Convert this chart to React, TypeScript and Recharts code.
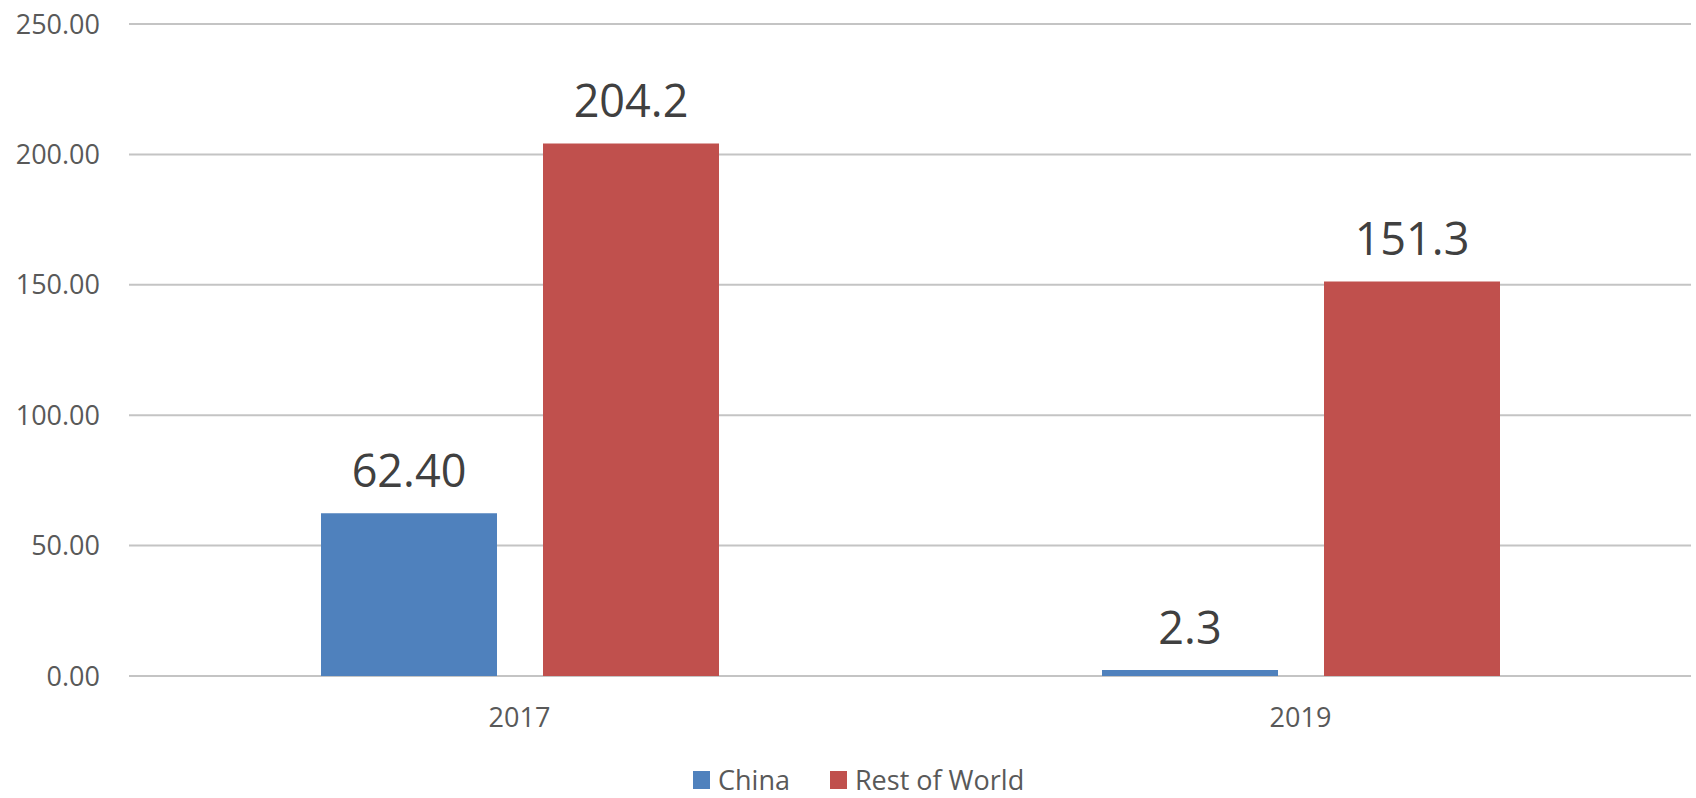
import { BarChart, Bar, XAxis, YAxis, CartesianGrid, Legend, LabelList } from 'recharts';

const years = ['2017', '2019'];
const chinaValues = [62.4, 2.3];
const chinaLabels = ['62.40', '2.3'];
const restValues = [204.2, 151.3];
const restLabels = ['204.2', '151.3'];
const yTicks = [0, 50, 100, 150, 200, 250];

const data = years.map((year, i) => ({
  year,
  china: chinaValues[i],
  chinaLabel: chinaLabels[i],
  rest: restValues[i],
  restLabel: restLabels[i],
}));

const FONT = '"Open Sans", sans-serif';

// Excel-style legend: small square then gray label
const renderLegend = (props: any) => {
  const { payload } = props;
  return (
    <div
      style={{
        height: 30,
        display: 'flex',
        alignItems: 'center',
        paddingLeft: 693,
        fontFamily: FONT,
        fontSize: 27,
        color: '#595959',
      }}
    >
      {payload.map((entry: any, i: number) => (
        <div key={i} style={{ display: 'flex', alignItems: 'center', marginRight: 40 }}>
          <span style={{ width: 17, height: 18, background: entry.color, display: 'inline-block', marginRight: 8 }} />
          <span style={{ lineHeight: '30px' }}>{entry.value}</span>
        </div>
      ))}
    </div>
  );
};

export default function App() {
  return (
    <div style={{ position: 'absolute', left: 0, top: 0, background: '#fff' }}>
      <BarChart
        width={1696}
        height={798}
        data={data}
        margin={{ top: 24, right: 5, bottom: 3, left: 0 }}
        barSize={176}
        barGap={46}
      >
        <CartesianGrid vertical={false} stroke="#c4c4c4" strokeWidth={2} />
        <XAxis
          dataKey="year"
          axisLine={false}
          tickLine={false}
          tickSize={0}
          tickMargin={32}
          height={89}
          tick={{ fill: '#595959', fontSize: 27, fontFamily: FONT }}
        />
        <YAxis
          domain={[0, 250]}
          ticks={yTicks}
          axisLine={false}
          tickLine={false}
          tickSize={0}
          tickMargin={29}
          width={129}
          tickFormatter={(v: number) => v.toFixed(2)}
          tick={{ fill: '#595959', fontSize: 27, fontFamily: FONT }}
        />
        <Legend verticalAlign="bottom" wrapperStyle={{ left: 0, width: 1696 }} content={renderLegend} />
        <Bar dataKey="china" name="China" fill="#4F81BD" isAnimationActive={false}>
          <LabelList dataKey="chinaLabel" position="top" offset={26} fill="#404040" fontSize={45} fontFamily={FONT} />
        </Bar>
        <Bar dataKey="rest" name="Rest of World" fill="#C0504D" isAnimationActive={false}>
          <LabelList dataKey="restLabel" position="top" offset={26} fill="#404040" fontSize={45} fontFamily={FONT} />
        </Bar>
      </BarChart>
    </div>
  );
}
